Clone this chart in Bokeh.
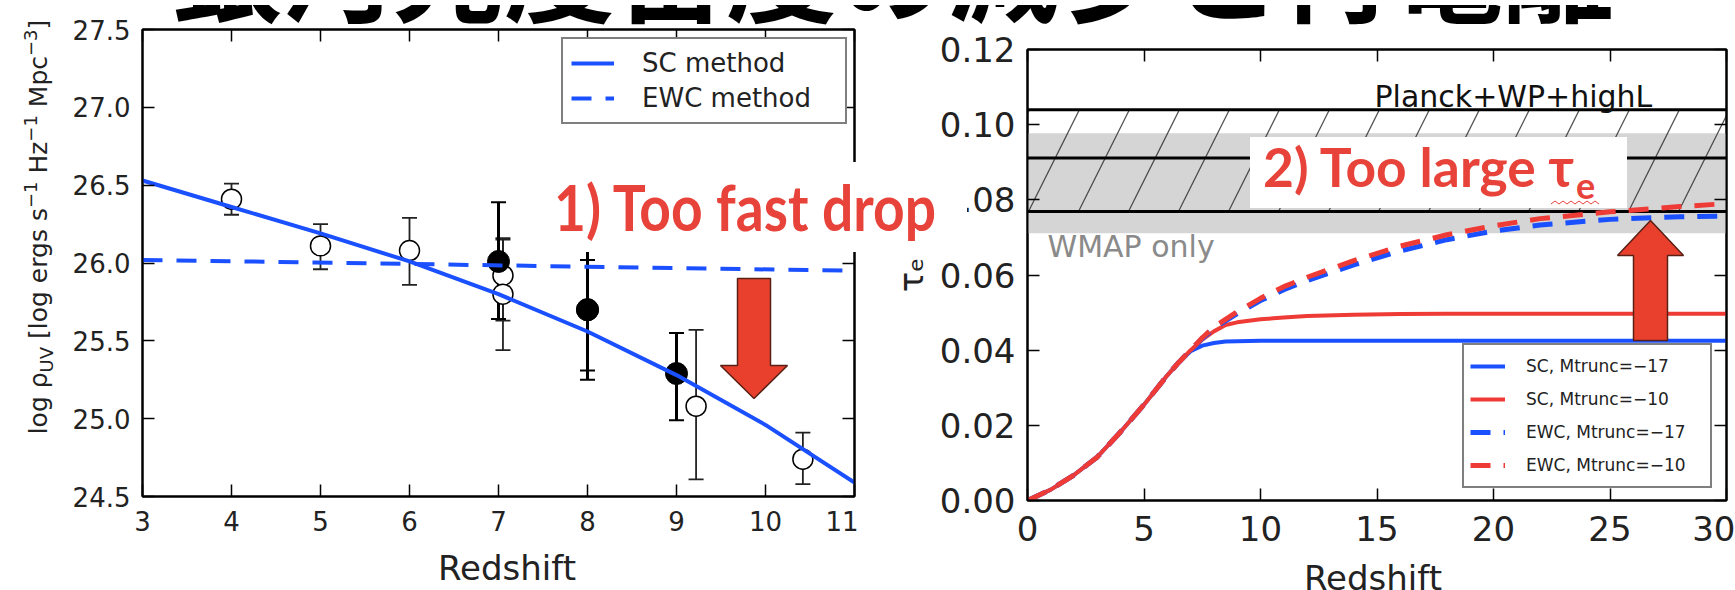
from bokeh.plotting import figure
from bokeh.layouts import row
from bokeh.models import (Range1d, LinearAxis, FixedTicker, PrintfTickFormatter,
                          CustomJSTickFormatter, Label, Legend, LegendItem, Div)
from bokeh.embed import file_html
from bokeh.resources import INLINE

# ---------------- data: left panel (UV luminosity density) ----------------
sc_z = [3, 4, 5, 6, 7, 8, 9, 10, 11]
sc_rho = [26.53, 26.36, 26.19, 26.01, 25.80, 25.56, 25.28, 24.96, 24.59]
ewc_z = [3, 11]
ewc_rho = [26.02, 25.95]

open_z = [4.0, 5.0, 6.0, 7.05, 7.05, 9.22, 10.42]
open_rho = [26.41, 26.11, 26.08, 25.92, 25.80, 25.08, 24.74]
open_hi = [26.51, 26.25, 26.29, 26.16, 26.15, 25.57, 24.91]
open_lo = [26.31, 25.96, 25.86, 25.63, 25.44, 24.61, 24.58]

filled_z = [7.0, 8.0, 8.0, 9.0]
filled_rho = [26.01, 25.70, 25.70, 25.29]
filled_hi = [26.39, 26.09, 26.02, 25.55]
filled_lo = [25.64, 25.25, 25.31, 24.99]

left_xticks = [3, 4, 5, 6, 7, 8, 9, 10, 11]
left_yticks = [24.5, 25.0, 25.5, 26.0, 26.5, 27.0, 27.5]

# ---------------- data: right panel (optical depth) ----------------
tau_z = [0, 1, 2, 3, 4, 5, 5.5, 6, 6.5, 7, 7.5, 8, 8.5, 9, 10, 11, 12, 14, 16, 18, 20, 22, 25, 28, 30]
sc_m17 = [0, .0029, .0068, .0116, .0183, .0255, .0294, .0333, .0368, .0397, .0412, .0419, .0423, .0424,
          .0425, .0425, .0425, .0425, .0425, .0425, .0425, .0425, .0425, .0425, .0425]
sc_m10 = [0, .0029, .0068, .0116, .0183, .0255, .0294, .0333, .0368, .0400, .0428, .0450, .0467, .0474,
          .0482, .0487, .0491, .0494, .0496, .0497, .0497, .0497, .0497, .0497, .0497]
ewc_m17 = [0, .0029, .0068, .0116, .0183, .0255, .0294, .0333, .0368, .0400, .0431, .0458, .0478, .0497,
           .0532, .0561, .0585, .0627, .0664, .0694, .0717, .0733, .0748, .0755, .0757]
ewc_m10 = [0, .0029, .0068, .0116, .0183, .0255, .0294, .0333, .0368, .0400, .0433, .0461, .0482, .0502,
           .0538, .0569, .0594, .0638, .0677, .0707, .0731, .0750, .0768, .0782, .0790]

planck_tau = [0.0769, 0.0911, 0.1040]
planck_band = (0.0769, 0.1040)
wmap_band = (0.0711, 0.0977)

right_xticks = [0, 5, 10, 15, 20, 25, 30]
right_yticks = [0.0, 0.02, 0.04, 0.06, 0.08, 0.10, 0.12]

TITLE = "銀河光度密度の減少と再電離"

# ---------------- styles / geometry ----------------
BLUE = "#1a50ff"
RED = "#ef3b36"
ANN = "#e8433a"
ARROW = "#e8402c"
TICKFONT = "DejaVu Sans"

PAGE_W, H = 1735, 590
W1 = 858
W2 = PAGE_W - W1
X1, Y1 = (3, 11), (24.5, 27.5)
X2, Y2 = (0, 30), (0.0, 0.12)
# frame edges in page pixels
F1 = dict(left=142, right=854, top=29, bottom=496)
F2 = dict(left=1027, right=1726, top=49, bottom=500)


def conv(F, X, Y):
    def f(xp, yp):
        x = X[0] + (xp - F["left"]) * (X[1] - X[0]) / (F["right"] - F["left"])
        y = Y[0] + (F["bottom"] - yp) * (Y[1] - Y[0]) / (F["bottom"] - F["top"])
        return x, y
    return f


to1 = conv(F1, X1, Y1)
to2 = conv(F2, X2, Y2)


def make_fig(W, F, cx, X, Y):
    p = figure(width=W, height=H, x_range=Range1d(*X), y_range=Range1d(*Y), title=None,
               output_backend="svg", toolbar_location=None,
               min_border_left=int(round(F["left"] - cx)),
               min_border_right=int(round(cx + W - F["right"])),
               min_border_top=int(round(F["top"])),
               min_border_bottom=int(round(H - F["bottom"])))
    p.frame_align = False
    p.grid.visible = False
    p.outline_line_color = "black"
    p.outline_line_width = 2
    p.background_fill_color = "white"
    p.border_fill_color = "white"
    return p


def style_axis(ax, size, standoff):
    ax.axis_line_width = 2
    ax.axis_line_color = "black"
    ax.major_tick_in = 12
    ax.major_tick_out = 0
    ax.major_tick_line_width = 1.5
    ax.minor_tick_line_color = None
    ax.major_label_text_font = TICKFONT
    ax.major_label_text_font_size = size
    ax.major_label_text_color = "#222222"
    ax.major_label_standoff = standoff
    ax.axis_label_text_font = TICKFONT
    ax.axis_label_text_font_style = "normal"
    ax.axis_label_text_color = "#222222"


def add_mirror_axes(p, xt, yt):
    empty = CustomJSTickFormatter(code="return ''")
    top = LinearAxis(ticker=FixedTicker(ticks=xt), formatter=empty)
    right = LinearAxis(ticker=FixedTicker(ticks=yt), formatter=empty)
    for ax in (top, right):
        style_axis(ax, "1px", 0)
        ax.axis_label_standoff = 0
    p.add_layout(top, "above")
    p.add_layout(right, "right")


def arrow(p, f, pts):
    xs, ys = zip(*[f(a, b) for a, b in pts])
    p.patch(list(xs), list(ys), fill_color=ARROW, line_color="#5a2015", line_width=1.5)


# ================= left panel =================
p1 = make_fig(W1, F1, 0, X1, Y1)
p1.xaxis.ticker = FixedTicker(ticks=left_xticks)
p1.yaxis.ticker = FixedTicker(ticks=left_yticks)
p1.yaxis.formatter = PrintfTickFormatter(format="%.1f")
p1.xaxis.formatter = PrintfTickFormatter(format="%d")
style_axis(p1.xaxis[0], "26px", 14)
style_axis(p1.yaxis[0], "26px", 12)
add_mirror_axes(p1, left_xticks, left_yticks)

# error bars (under the markers)
p1.segment(x0=open_z, y0=open_lo, x1=open_z, y1=open_hi, line_color="#222222", line_width=1.8)
p1.scatter(open_z + open_z, open_lo + open_hi, marker="dash", size=15, line_color="#222222", line_width=1.8)
p1.segment(x0=filled_z, y0=filled_lo, x1=filled_z, y1=filled_hi, line_color="black", line_width=3)
p1.scatter(filled_z + filled_z, filled_lo + filled_hi, marker="dash", size=15, line_color="black", line_width=2)
p1.scatter(open_z, open_rho, marker="circle", size=20, fill_color="white", line_color="black", line_width=1.5)
p1.scatter(filled_z, filled_rho, marker="circle", size=22, fill_color="black", line_color="black")

r_sc = p1.line(sc_z, sc_rho, line_color=BLUE, line_width=4)
r_ewc = p1.line(ewc_z, ewc_rho, line_color=BLUE, line_width=4, line_dash="20 14")

leg1 = Legend(items=[LegendItem(label="SC method", renderers=[r_sc]),
                     LegendItem(label="EWC method", renderers=[r_ewc])],
              location=(561 - F1["left"], F1["bottom"] - 124))
leg1.margin = 0
leg1.padding = 8
leg1.spacing = 3
leg1.label_height = 32
leg1.glyph_height = 32
leg1.glyph_width = 43
leg1.label_standoff = 28
leg1.label_width = 195
leg1.label_text_font = TICKFONT
leg1.label_text_font_size = "26px"
leg1.label_text_color = "#222222"
leg1.border_line_color = "black"
leg1.border_line_width = 2
leg1.background_fill_alpha = 1.0
p1.add_layout(leg1)

arrow(p1, to1, [(737, 278), (770, 278), (770, 365), (787, 365), (753.5, 398), (720, 365), (737, 365)])

# ================= right panel =================
p2 = make_fig(W2, F2, W1, X2, Y2)
p2.xaxis.ticker = FixedTicker(ticks=right_xticks)
p2.yaxis.ticker = FixedTicker(ticks=right_yticks)
p2.yaxis.formatter = PrintfTickFormatter(format="%.2f")
p2.xaxis.formatter = PrintfTickFormatter(format="%d")
style_axis(p2.xaxis[0], "34px", 15)
style_axis(p2.yaxis[0], "34px", 12)
p2.yaxis.axis_label = "τₑ"
p2.yaxis.axis_label_text_font_size = "34px"
p2.yaxis.axis_label_standoff = 6
add_mirror_axes(p2, right_xticks, right_yticks)

p2.quad(left=X2[0], right=X2[1], bottom=wmap_band[0], top=wmap_band[1],
        fill_color="#d5d5d5", line_color=None)
p2.quad(left=X2[0], right=X2[1], bottom=planck_band[0], top=planck_band[1],
        fill_alpha=0, line_color=None, hatch_pattern="/", hatch_color="#333333",
        hatch_alpha=0.85, hatch_scale=100, hatch_weight=1.3)
p2.segment(x0=[X2[0]] * 3, y0=planck_tau, x1=[X2[1]] * 3, y1=planck_tau,
           line_color="black", line_width=3)

r1 = p2.line(tau_z, sc_m17, line_color=BLUE, line_width=4)
r2 = p2.line(tau_z, sc_m10, line_color=RED, line_width=4)
r3 = p2.line(tau_z, ewc_m17, line_color=BLUE, line_width=5, line_dash="20 13")
r4 = p2.line(tau_z, ewc_m10, line_color=RED, line_width=5, line_dash="20 13")

leg2 = Legend(items=[LegendItem(label="SC, Mtrunc=−17", renderers=[r1]),
                     LegendItem(label="SC, Mtrunc=−10", renderers=[r2]),
                     LegendItem(label="EWC, Mtrunc=−17", renderers=[r3]),
                     LegendItem(label="EWC, Mtrunc=−10", renderers=[r4])],
              location=(1462 - F2["left"], F2["bottom"] - 488))
leg2.margin = 0
leg2.padding = 6
leg2.spacing = 3
leg2.label_height = 30
leg2.glyph_height = 30
leg2.glyph_width = 35
leg2.label_standoff = 21
leg2.label_width = 178
leg2.label_text_font = TICKFONT
leg2.label_text_font_size = "17px"
leg2.label_text_color = "#222222"
leg2.border_line_color = "black"
leg2.border_line_width = 2
leg2.background_fill_alpha = 1.0
p2.add_layout(leg2)

arrow(p2, to2, [(1633, 340), (1667, 340), (1667, 255), (1683, 255), (1650, 220), (1617, 255), (1633, 255)])

x, y = to2(1374, 96)
p2.add_layout(Label(x=x, y=y, text="Planck+WP+highL", text_font=TICKFONT, text_font_size="30px",
                    text_color="#111111", text_baseline="alphabetic"))
x, y = to2(1047, 246)
p2.add_layout(Label(x=x, y=y, text="WMAP only", text_font=TICKFONT, text_font_size="30px",
                    text_color="#8a8a8a", text_baseline="alphabetic"))

# ============ overlay: texts that run across both panels / outside frames ============
def st(family, size, weight="normal", color="#222222", anchor="start"):
    return (f'style="font-family:\'{family}\';font-size:{size}px;font-weight:{weight};'
            f'fill:{color};text-anchor:{anchor};font-style:normal"')


def small(size):
    return f'style="font-size:{size}px"'


ylabel = (f'<text transform="translate(42,222) rotate(-90)" {st("DejaVu Sans", 25, "normal", "#222222", "middle")}>'
          f'log ρ<tspan dy="6" {small(18)}>UV</tspan><tspan dy="-6"> [log ergs s</tspan>'
          f'<tspan dy="-10" {small(18)}>−1</tspan><tspan dy="10"> Hz</tspan>'
          f'<tspan dy="-10" {small(18)}>−1</tspan><tspan dy="10"> Mpc</tspan>'
          f'<tspan dy="-10" {small(18)}>−3</tspan><tspan dy="10">]</tspan></text>')

overlay_svg = f'''<svg xmlns="http://www.w3.org/2000/svg" width="{PAGE_W}" height="{H}"
 style="position:absolute;left:0;top:0;overflow:hidden;display:block">
<text x="166" y="9" {st("Noto Sans CJK JP", 111, "bold", "#000000")}>{TITLE}</text>
{ylabel}
<rect x="535" y="157" width="427" height="90" style="fill:#ffffff"/>
<text x="549" y="226" textLength="382" lengthAdjust="spacingAndGlyphs" {st("Lato", 64, "bold", ANN)}>1) Too fast drop</text>
<rect x="1245" y="132" width="377" height="71" style="fill:#ffffff"/>
<text x="1258" y="182" textLength="311" lengthAdjust="spacingAndGlyphs" {st("Lato", 53, "bold", ANN)}>2) Too large τ</text>
<text x="1571" y="194" {st("Lato", 36, "bold", ANN)}>e</text>
<path d="M1546 199 l4 -3 l4 3 l4 -3 l4 3 l4 -3 l4 3 l4 -3 l4 3 l4 -3 l4 3 l4 -3 l4 3" style="fill:none;stroke:{ANN};stroke-width:1"/>
<text x="502" y="575" {st("DejaVu Sans", 34, "normal", "#222222", "middle")}>Redshift</text>
<text x="1368" y="585" {st("DejaVu Sans", 34, "normal", "#222222", "middle")}>Redshift</text>
</svg>'''

overlay = Div(text=overlay_svg, width=PAGE_W, height=H,
              styles={"position": "absolute", "left": "0px", "top": "0px",
                      "pointer-events": "none", "z-index": "10", "overflow": "hidden"},
              stylesheets=[":host { position: absolute !important; left: 0px !important; "
                           "top: 0px !important; overflow: hidden !important; }"])

layout = row(p1, p2, overlay)
open("out.html", "w").write(file_html(layout, INLINE))
